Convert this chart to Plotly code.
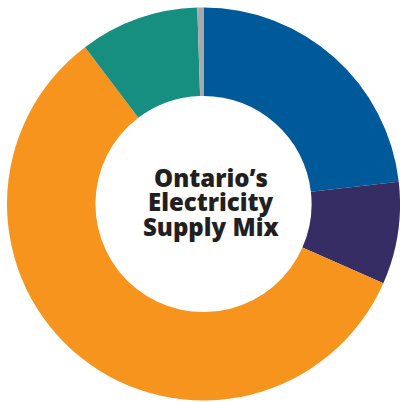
import plotly.graph_objects as go

W, H = 400, 402

labels = ["Hydro", "Natural Gas", "Nuclear", "Wind", "Solar/Other"]
values = [23.2, 8.4, 58.1, 9.8, 0.5]
colors = ["#005a9a", "#372d65", "#f7941e", "#178f80", "#a7a9ac"]
title_lines = ["Ontario’s", "Electricity", "Supply Mix"]

# pie geometry in figure pixels (from top-left)
cx, cy, r = 203.5, 204, 196.5

fig = go.Figure(go.Pie(
    labels=labels,
    values=values,
    marker=dict(colors=colors, line=dict(width=0)),
    hole=0.55,
    sort=False,
    direction="clockwise",
    rotation=0,
    textinfo="none",
    hoverinfo="label+percent",
    showlegend=False,
    domain=dict(x=[max(0, (cx - r) / W), min(1, (cx + r) / W)],
                y=[max(0, 1 - (cy + r) / H), min(1, 1 - (cy - r) / H)]),
))

line_y = [177, 201.5, 226]
for txt, py in zip(title_lines, line_y):
    fig.add_annotation(
        text=txt, x=211 / W, y=1 - py / H, xref="paper", yref="paper",
        xanchor="center", yanchor="middle", showarrow=False,
        font=dict(family="Open Sans", size=24, color="#231f20", weight=800),
    )

fig.update_layout(
    width=W, height=H,
    margin=dict(l=0, r=0, t=0, b=0),
    paper_bgcolor="white", plot_bgcolor="white",
)

fig.write_html(
    "out.html",
    config={"displayModeBar": False},
    post_script="document.body.style.margin='0';document.body.style.overflow='hidden';",
)
